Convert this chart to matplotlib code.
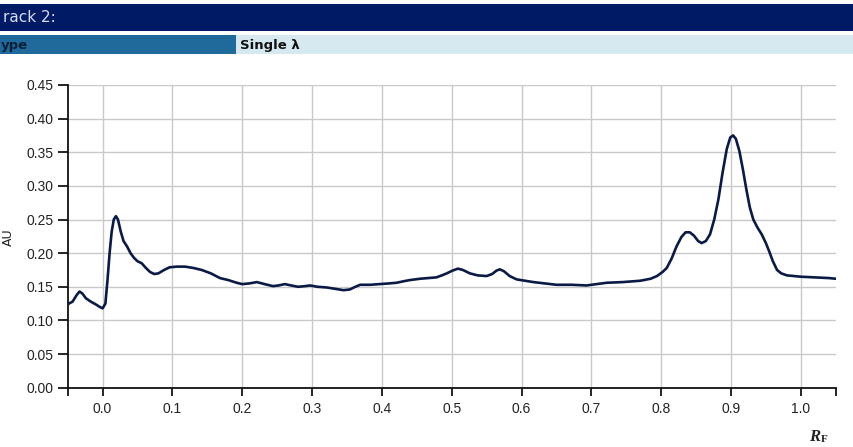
import matplotlib
matplotlib.use("Agg")
import matplotlib.pyplot as plt
from matplotlib.patches import Rectangle

plt.rcParams["font.family"] = ["Liberation Sans", "DejaVu Sans"]

# Chromatogram trace: retardation factor vs. absorbance
rf = [-0.050, -0.043, -0.037, -0.033, -0.029, -0.024, -0.017, -0.010, -0.004, 0.000,
      0.004, 0.007, 0.010, 0.013, 0.016, 0.019, 0.022, 0.026, 0.030, 0.035,
      0.040, 0.045, 0.050, 0.056, 0.062, 0.068, 0.074, 0.080, 0.088, 0.096,
      0.106, 0.118, 0.130, 0.142, 0.155, 0.168, 0.180, 0.192, 0.200, 0.210,
      0.221, 0.232, 0.244, 0.252, 0.261, 0.270, 0.280, 0.290, 0.297, 0.308,
      0.321, 0.333, 0.345, 0.354, 0.362, 0.369, 0.383, 0.397, 0.410, 0.421,
      0.430, 0.440, 0.455, 0.467, 0.478, 0.486, 0.493, 0.501, 0.509, 0.516,
      0.526, 0.537, 0.550, 0.558, 0.564, 0.569, 0.575, 0.583, 0.593, 0.605,
      0.617, 0.633, 0.650, 0.672, 0.693, 0.708, 0.722, 0.745, 0.770, 0.785,
      0.794, 0.802, 0.808, 0.815, 0.822, 0.829, 0.835, 0.841, 0.847, 0.853,
      0.858, 0.864, 0.870, 0.876, 0.882, 0.888, 0.894, 0.899, 0.903, 0.907,
      0.912, 0.917, 0.922, 0.927, 0.932, 0.938, 0.944, 0.950, 0.955, 0.960,
      0.966, 0.972, 0.980, 0.990, 1.000, 1.020, 1.040, 1.050]
absorbance = [0.124, 0.128, 0.138, 0.143, 0.140, 0.133, 0.128, 0.124, 0.120, 0.118,
              0.125, 0.160, 0.200, 0.232, 0.250, 0.255, 0.250, 0.232, 0.218, 0.210,
              0.200, 0.193, 0.188, 0.185, 0.178, 0.172, 0.169, 0.170, 0.175, 0.179,
              0.180, 0.180, 0.178, 0.175, 0.170, 0.163, 0.160, 0.156, 0.154, 0.155,
              0.157, 0.154, 0.151, 0.152, 0.154, 0.152, 0.150, 0.151, 0.152, 0.150,
              0.149, 0.147, 0.145, 0.146, 0.150, 0.153, 0.153, 0.154, 0.155, 0.156,
              0.158, 0.160, 0.162, 0.163, 0.164, 0.167, 0.170, 0.174, 0.177, 0.175,
              0.170, 0.167, 0.166, 0.169, 0.174, 0.176, 0.173, 0.166, 0.161, 0.159,
              0.157, 0.155, 0.153, 0.153, 0.152, 0.154, 0.156, 0.157, 0.159, 0.162,
              0.166, 0.172, 0.178, 0.192, 0.210, 0.224, 0.231, 0.231, 0.226, 0.218,
              0.215, 0.218, 0.228, 0.250, 0.280, 0.320, 0.355, 0.372, 0.375, 0.370,
              0.352, 0.325, 0.295, 0.268, 0.250, 0.238, 0.228, 0.215, 0.202, 0.188,
              0.175, 0.170, 0.167, 0.166, 0.165, 0.164, 0.163, 0.162]

x_ticks = [0.0, 0.1, 0.2, 0.3, 0.4, 0.5, 0.6, 0.7, 0.8, 0.9, 1.0]
y_ticks = [0.00, 0.05, 0.10, 0.15, 0.20, 0.25, 0.30, 0.35, 0.40, 0.45]
x_range = (-0.05, 1.05)
y_range = (0.0, 0.45)

W, H = 854, 447
fig = plt.figure(figsize=(W / 100, H / 100), dpi=100)
fig.patch.set_facecolor("white")


def px_rect(x0, y0, x1, y1, color):
    fig.patches.append(Rectangle((x0 / W, 1 - y1 / H), (x1 - x0) / W, (y1 - y0) / H,
                                 transform=fig.transFigure, facecolor=color,
                                 edgecolor="none", zorder=0))


# Header bars
px_rect(0, 4, W, 31, "#001a66")
px_rect(0, 35, 236, 54, "#1f6a9b")
px_rect(236, 35, W, 54, "#d6e9f0")
fig.text(3 / W, 1 - 18 / H, "rack 2:", color="#d6dcf0", fontsize=11,
         family="DejaVu Sans", va="center", ha="left")
fig.text(1 / W, 1 - 45 / H, "ype", color="#0d1f3a", fontsize=9.5,
         family="DejaVu Sans", weight="bold", va="center", ha="left")
fig.text(240 / W, 1 - 45 / H, "Single λ", color="#111111", fontsize=9.5,
         family="DejaVu Sans", weight="bold", va="center", ha="left")

left, right = 67.7 / W, 835.7 / W
bottom, top = 1 - 387.7 / H, 1 - 85 / H
ax = fig.add_axes([left, bottom, right - left, top - bottom])

ax.plot(rf, absorbance, color="#0a1a44", linewidth=1.9, solid_joinstyle="round",
        solid_capstyle="round", zorder=3)

ax.set_xlim(*x_range)
ax.set_ylim(*y_range)
ax.set_xticks(x_ticks)
ax.set_xticklabels([f"{v:.1f}" for v in x_ticks])
ax.set_xticks(list(x_range), minor=True)
ax.set_yticks(y_ticks)
ax.set_yticklabels([f"{v:.2f}" for v in y_ticks])

ax.grid(True, which="major", color="#c9c9c9", linewidth=1.0)
ax.set_axisbelow(True)
for s in ("top", "right"):
    ax.spines[s].set_visible(False)
for s in ("left", "bottom"):
    ax.spines[s].set_linewidth(1.3)
    ax.spines[s].set_color("#111111")

ax.tick_params(axis="y", length=7, width=1.2, pad=3, labelsize=10,
               labelcolor="#222222")
ax.tick_params(axis="x", which="both", length=6, width=1.2, pad=4,
               labelsize=10, labelcolor="#222222")

# Axis titles
fig.text(8 / W, 1 - 237 / H, "AU", rotation=90, fontsize=9, color="#222222",
         family="DejaVu Sans", ha="center", va="center")
fig.text(809 / W, 1 - 437 / H, "R", fontsize=12, family="Liberation Serif",
         style="italic", weight="bold", color="#222222", ha="left", va="center")
fig.text(821 / W, 1 - 440 / H, "F", fontsize=8, family="Liberation Serif",
         weight="bold", color="#222222", ha="left", va="center")

fig.savefig("out.png", dpi=100)
